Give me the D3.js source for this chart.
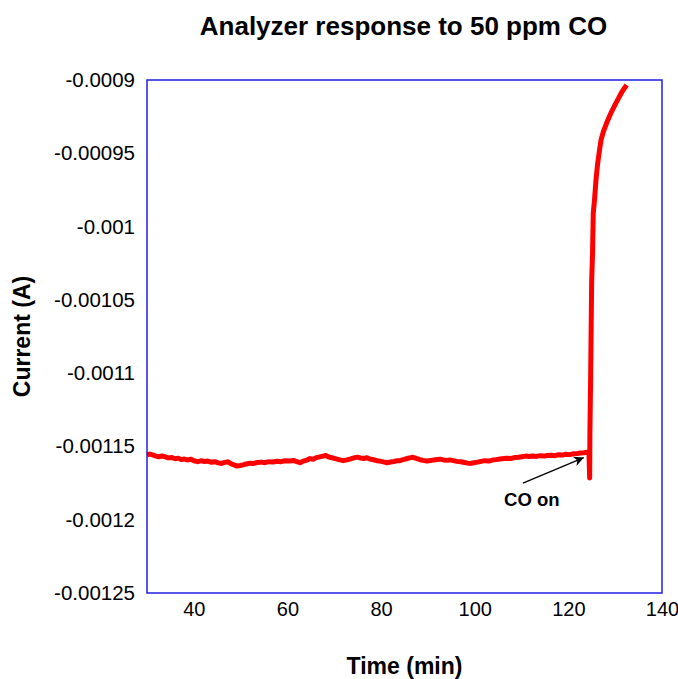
<!DOCTYPE html>
<html>
<head>
<meta charset="utf-8">
<script src="https://cdn.jsdelivr.net/npm/d3@7"></script>
<style>
  html, body { margin: 0; padding: 0; background: #fff; }
  svg { display: block; }
  text { font-family: "Liberation Sans", Arial, Helvetica, sans-serif; fill: #000; }
</style>
</head>
<body>
<svg id="chart" width="678" height="679"></svg>
<script>
// ---- data ----
const timeMin = [
  30.0, 30.6, 31.2, 31.9, 32.5, 33.2, 33.9, 34.5, 35.2, 36.0, 36.7, 37.3, 38.0, 38.6, 39.4, 40.0, 40.8, 41.5, 42.3, 43.0, 43.8, 44.5, 45.2, 45.9, 46.6, 47.3, 48.0, 48.6, 49.2, 49.9, 50.5, 51.2, 52.0, 52.8, 53.6, 54.4, 55.2, 56.0, 56.9, 57.8, 58.6, 59.5, 60.5, 61.3, 62.0, 62.7, 63.4, 64.1, 64.8, 65.5, 66.2, 66.9, 67.6, 68.2, 68.8, 69.5, 70.2, 71.0, 71.9, 72.7, 73.5, 74.2, 74.9, 75.6, 76.3, 77.0, 77.6, 78.4, 79.2, 80.0, 80.7, 81.3, 82.0, 82.7, 83.4, 84.0, 84.7, 85.4, 86.1, 86.8, 87.5, 88.2, 88.9, 89.8, 90.6, 91.3, 92.0, 92.6, 93.3, 94.0, 94.7, 95.4, 96.2, 97.0, 97.8, 98.5, 99.1, 99.8, 100.6, 101.4, 102.2, 103.0, 103.8, 104.6, 105.4, 106.2, 106.9, 107.7, 108.5, 109.3, 110.1, 110.9, 111.6, 112.4, 113.2, 114.0, 114.8, 115.5, 116.3, 117.1, 117.9, 118.7, 119.5, 120.3, 121.1, 121.9, 122.6, 123.3, 124.0, 124.4,
  124.55, 124.6, 124.75, 124.98, 125.15, 125.32, 125.58, 125.9, 126.22, 126.6, 126.97, 127.5, 128.25, 129.1, 129.96, 130.7, 131.45, 132.0, 132.45
];
const currentA = [
  -0.0011557, -0.0011552, -0.0011558, -0.0011566, -0.0011570, -0.0011565, -0.0011572, -0.0011578, -0.0011575, -0.0011584, -0.0011580, -0.0011590, -0.0011586, -0.0011592, -0.0011588, -0.0011598, -0.0011604, -0.0011598, -0.0011603, -0.0011600, -0.0011608, -0.0011604, -0.0011612, -0.0011616, -0.0011609, -0.0011605, -0.0011619, -0.0011626, -0.0011634, -0.0011630, -0.0011626, -0.0011620, -0.0011614, -0.0011616, -0.0011610, -0.0011607, -0.0011611, -0.0011604, -0.0011606, -0.0011601, -0.0011604, -0.0011598, -0.0011600, -0.0011596, -0.0011603, -0.0011611, -0.0011600, -0.0011594, -0.0011583, -0.0011587, -0.0011576, -0.0011571, -0.0011566, -0.0011562, -0.0011572, -0.0011577, -0.0011583, -0.0011590, -0.0011597, -0.0011592, -0.0011585, -0.0011578, -0.0011573, -0.0011579, -0.0011582, -0.0011577, -0.0011586, -0.0011591, -0.0011598, -0.0011602, -0.0011607, -0.0011611, -0.0011606, -0.0011603, -0.0011598, -0.0011597, -0.0011590, -0.0011584, -0.0011578, -0.0011574, -0.0011582, -0.0011589, -0.0011595, -0.0011600, -0.0011596, -0.0011592, -0.0011589, -0.0011587, -0.0011592, -0.0011595, -0.0011592, -0.0011597, -0.0011602, -0.0011605, -0.0011610, -0.0011614, -0.0011616, -0.0011611, -0.0011607, -0.0011602, -0.0011597, -0.0011600, -0.0011593, -0.0011590, -0.0011586, -0.0011583, -0.0011580, -0.0011582, -0.0011576, -0.0011574, -0.0011570, -0.0011566, -0.0011569, -0.0011565, -0.0011568, -0.0011563, -0.0011566, -0.0011562, -0.0011560, -0.0011563, -0.0011557, -0.0011559, -0.0011553, -0.0011556, -0.0011550, -0.0011548, -0.0011545, -0.0011543, -0.0011540, -0.0011548,
  -0.0011716, -0.0011410, -0.0011047, -0.0010365, -0.0010200, -0.0009907, -0.0009820, -0.0009682, -0.0009580, -0.0009490, -0.0009410, -0.0009350, -0.0009287, -0.0009225, -0.0009170, -0.0009125, -0.0009080, -0.0009055, -0.0009034
];

const xTicks = [40, 60, 80, 100, 120, 140];
const yTicks = [-0.0009, -0.00095, -0.001, -0.00105, -0.0011, -0.00115, -0.0012, -0.00125];
const yTickLabels = ["-0.0009", "-0.00095", "-0.001", "-0.00105", "-0.0011", "-0.00115", "-0.0012", "-0.00125"];

const titleText = "Analyzer response to 50 ppm CO";
const xTitle = "Time (min)";
const yTitle = "Current (A)";
const annotText = "CO on";
const annotTail = [110.3, -0.0011750];
const annotHead = [123.3, -0.0011576];
const annotLabel = [112.2, -0.0011906];

// ---- layout ----
const svg = d3.select("#chart");
const mLeft = 147, mRight = 662, mTop = 80, mBottom = 593;

const x = d3.scaleLinear().domain([30, 140]).range([mLeft, mRight]);
const y = d3.scaleLinear().domain([-0.00125, -0.0009]).range([mBottom, mTop]);

// title
svg.append("text")
  .attr("x", (mLeft + mRight) / 2 - 1).attr("y", 35)
  .attr("text-anchor", "middle")
  .style("font-size", "26px").style("font-weight", "bold")
  .text(titleText);

// axes (labels only)
const xAxis = svg.append("g")
  .attr("transform", `translate(0,${mBottom})`)
  .call(d3.axisBottom(x).tickValues(xTicks).tickSize(0).tickPadding(9).tickFormat(d3.format("d")));
xAxis.select(".domain").remove();
xAxis.selectAll("text").style("font-size", "20px").style("font-family", '"Liberation Sans", Arial, sans-serif');

const yAxis = svg.append("g")
  .attr("transform", `translate(${mLeft},0)`)
  .call(d3.axisLeft(y).tickValues(yTicks).tickSize(0).tickPadding(12)
    .tickFormat((d, i) => yTickLabels[i]));
yAxis.select(".domain").remove();
yAxis.selectAll("text").style("font-size", "20.5px").style("font-family", '"Liberation Sans", Arial, sans-serif');

// axis titles
svg.append("text")
  .attr("x", (mLeft + mRight) / 2).attr("y", 674)
  .attr("text-anchor", "middle")
  .style("font-size", "23px").style("font-weight", "bold")
  .text(xTitle);

svg.append("text")
  .attr("transform", `translate(30,${(mTop + mBottom) / 2}) rotate(-90)`)
  .attr("text-anchor", "middle")
  .style("font-size", "23px").style("font-weight", "bold")
  .text(yTitle);

// data line
const pts = timeMin.map((t, i) => [t, currentA[i]]);
svg.append("path")
  .datum(pts)
  .attr("fill", "none")
  .attr("stroke", "#ff0000")
  .attr("stroke-width", 5)
  .attr("stroke-linejoin", "round")
  .attr("d", d3.line().x(d => x(d[0])).y(d => y(d[1])));

// plot border
svg.append("rect")
  .attr("x", mLeft).attr("y", mTop)
  .attr("width", mRight - mLeft).attr("height", mBottom - mTop)
  .attr("fill", "none").attr("stroke", "#2020e0").attr("stroke-width", 1.5);

// annotation arrow
const defs = svg.append("defs");
defs.append("marker")
  .attr("id", "arrowhead")
  .attr("viewBox", "0 0 10 10")
  .attr("refX", 10).attr("refY", 5)
  .attr("markerWidth", 14).attr("markerHeight", 10)
  .attr("markerUnits", "userSpaceOnUse")
  .attr("orient", "auto")
  .append("path").attr("d", "M0,0 L10,5 L0,10 L3,5 Z").attr("fill", "#000");

svg.append("line")
  .attr("x1", x(annotTail[0])).attr("y1", y(annotTail[1]))
  .attr("x2", x(annotHead[0])).attr("y2", y(annotHead[1]))
  .attr("stroke", "#000").attr("stroke-width", 1.3)
  .attr("marker-end", "url(#arrowhead)");

svg.append("text")
  .attr("x", x(annotLabel[0])).attr("y", y(annotLabel[1]))
  .attr("text-anchor", "middle")
  .style("font-size", "18.5px").style("font-weight", "bold")
  .text(annotText);
</script>
</body>
</html>
